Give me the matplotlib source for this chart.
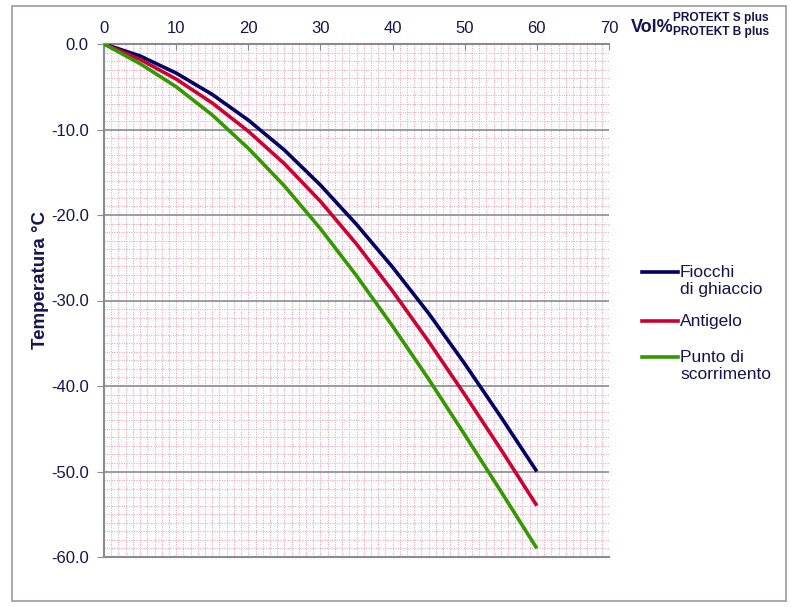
import numpy as np
import matplotlib.pyplot as plt
from matplotlib.patches import Rectangle
from matplotlib.lines import Line2D
from matplotlib.ticker import MultipleLocator

plt.rcParams['font.family'] = ['Liberation Sans', 'DejaVu Sans']

# values (Vol% vs temperature)
vol = [0, 5, 10, 15, 20, 25, 30, 35, 40, 45, 50, 55, 60]
fiocchi = [0, -1.4, -3.4, -5.9, -8.9, -12.4, -16.5, -21.1, -26.1, -31.5, -37.4, -43.6, -50.0]
antigelo = [0, -1.8, -4.1, -6.9, -10.2, -14.0, -18.4, -23.4, -28.9, -34.8, -41.0, -47.4, -54.0]
scorrimento = [0, -2.3, -5.0, -8.3, -12.2, -16.6, -21.6, -27.1, -33.0, -39.2, -45.7, -52.3, -59.0]

labels = ['Fiocchi\ndi ghiaccio', 'Antigelo', 'Punto di\nscorrimento']
colors = ['#000066', '#cc0033', '#339900']
txt = '#141450'

W, H = 791, 607
fig = plt.figure(figsize=(W / 100, H / 100), dpi=100)
fig.patches.append(Rectangle((12 / W, 6 / H), 774 / W, 595 / H, transform=fig.transFigure,
                             fill=False, edgecolor='#9a9aa4', linewidth=1.2))

ax = fig.add_axes([104 / W, 50 / H, 505 / W, 513 / H])
for y, c in zip([fiocchi, antigelo, scorrimento], colors):
    ax.plot(vol, y, color=c, lw=2.6, solid_joinstyle='round', solid_capstyle='butt', zorder=3)

ax.set_xlim(0, 70)
ax.set_ylim(-60, 0)
ax.xaxis.set_major_locator(MultipleLocator(10))
ax.xaxis.set_minor_locator(MultipleLocator(1))
ax.yaxis.set_minor_locator(MultipleLocator(1))
ax.xaxis.tick_top()
yt = np.arange(-60, 1, 10)
ax.set_yticks(yt)
ax.set_yticklabels([f'{v:.1f}' for v in yt])

ax.grid(which='minor', color='#f4a8bc', linestyle=(0, (1, 1.2)), linewidth=0.8)
ax.grid(which='major', axis='x', color='#f4a8bc', linestyle=(0, (1, 1.2)), linewidth=0.8)
ax.grid(which='major', axis='y', color='#8a8a94', linestyle='-', linewidth=1.2)
ax.set_axisbelow(True)

ax.spines['right'].set_visible(False)
for s in ['left', 'top', 'bottom']:
    ax.spines[s].set_color('#8a8a94')
    ax.spines[s].set_linewidth(1.5)

ax.tick_params(axis='x', which='major', direction='in', length=4, color='#8a8a94',
               labelsize=12, labelcolor=txt, pad=6)
ax.tick_params(axis='y', which='major', direction='out', length=5, color='#8a8a94',
               labelsize=12, labelcolor=txt, pad=6)
ax.tick_params(which='minor', length=0)

ax.set_ylabel('Temperatura °C', fontsize=13.5, fontweight='bold', color=txt)
ax.yaxis.set_label_coords(-0.108, 0.54)

fig.text(631 / W, 1 - 27 / H, 'Vol%', fontsize=13, fontweight='bold', color=txt, va='center')
fig.text(673 / W, 1 - 18 / H, 'PROTEKT S plus', fontsize=8.6, fontweight='bold', color=txt, va='center')
fig.text(673 / W, 1 - 32 / H, 'PROTEKT B plus', fontsize=8.6, fontweight='bold', color=txt, va='center')

# legend drawn by hand: handle aligned with the first line of each label
for lab, c, ly in zip(labels, colors, [272, 321, 357]):
    fig.add_artist(Line2D([642 / W, 678 / W], [1 - ly / H, 1 - ly / H], color=c, lw=2.6,
                          transform=fig.transFigure))
    fig.text(680 / W, 1 - (ly - 7) / H, lab, fontsize=12.5, color=txt, va='top',
             linespacing=1.15)

fig.savefig('out.png', dpi=100)
